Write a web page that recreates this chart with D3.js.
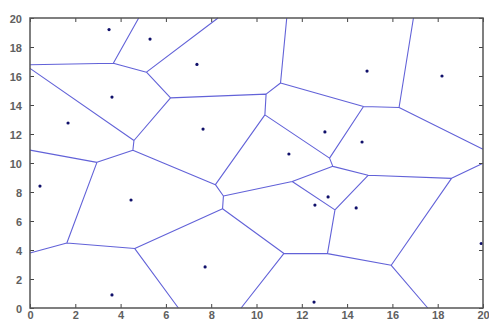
<!DOCTYPE html>
<html><head><meta charset="utf-8">
<script src="https://cdn.jsdelivr.net/npm/d3@7"></script>
<style>html,body{margin:0;padding:0;background:#fff;}</style>
</head><body>
<svg id="chart" width="489" height="322"></svg>
<script>
const xs = [3.49, 5.3, 7.37, 14.88, 18.19, 3.62, 1.68, 7.64, 13.02, 14.66, 11.43, 0.44, 4.46, 13.16, 12.58, 14.4, 19.92, 7.73, 3.62, 12.54];
const ys = [19.2, 18.55, 16.8, 16.34, 16.0, 14.55, 12.76, 12.34, 12.14, 11.45, 10.62, 8.41, 7.45, 7.66, 7.1, 6.9, 4.45, 2.83, 0.9, 0.41];
const xTicks = [0,2,4,6,8,10,12,14,16,18,20];
const yTicks = [0,2,4,6,8,10,12,14,16,18,20];

const svg = d3.select("#chart");
const L = 30, R = 483, T = 18, B = 308;
const x = d3.scaleLinear().domain([0,20]).range([L,R]);
const y = d3.scaleLinear().domain([0,20]).range([B,T]);

const pts = xs.map((v,i)=>[v, ys[i]]);
const del = d3.Delaunay.from(pts);
const vor = del.voronoi([0,0,20,20]);
const p = d3.path();
const ctx = {
  moveTo:(a,b)=>p.moveTo(x(a),y(b)),
  lineTo:(a,b)=>p.lineTo(x(a),y(b)),
  closePath:()=>p.closePath()
};
vor.render(ctx);
svg.append("path").attr("d", p.toString()).attr("fill","none")
  .attr("stroke","#6262d8").attr("stroke-width",1.1);

svg.selectAll("circle").data(pts).join("circle")
  .attr("cx",d=>x(d[0])).attr("cy",d=>y(d[1])).attr("r",1.6).attr("fill","#10106a");

const font = "Arial, 'Liberation Sans', sans-serif";
const tl = 4;
const gx = svg.append("g").attr("transform",`translate(0,${B})`)
  .call(d3.axisBottom(x).tickValues(xTicks).tickSizeInner(-tl).tickSizeOuter(0).tickPadding(3).tickFormat(d3.format("d")));
const gxt = svg.append("g").attr("transform",`translate(0,${T})`)
  .call(d3.axisTop(x).tickValues(xTicks).tickSizeInner(-tl).tickSizeOuter(0).tickFormat(""));
const gy = svg.append("g").attr("transform",`translate(${L},0)`)
  .call(d3.axisLeft(y).tickValues(yTicks).tickSizeInner(-tl).tickSizeOuter(0).tickPadding(8).tickFormat(d3.format("d")));
const gyr = svg.append("g").attr("transform",`translate(${R},0)`)
  .call(d3.axisRight(y).tickValues(yTicks).tickSizeInner(-tl).tickSizeOuter(0).tickFormat(""));
[gx,gxt,gy,gyr].forEach(g=>{
  g.select(".domain").remove();
  g.selectAll("line").attr("stroke","#444");
  g.selectAll("text").attr("fill","#606060").style("font-family",font).style("font-size","11px").style("font-weight","bold");
});
gx.selectAll("text").attr("dy","0.7em");
gy.selectAll("text").attr("dy","0.45em");
svg.append("rect").attr("x",L).attr("y",T).attr("width",R-L).attr("height",B-T)
  .attr("fill","none").attr("stroke","#555").attr("stroke-width",1.5);
</script>
</body></html>
